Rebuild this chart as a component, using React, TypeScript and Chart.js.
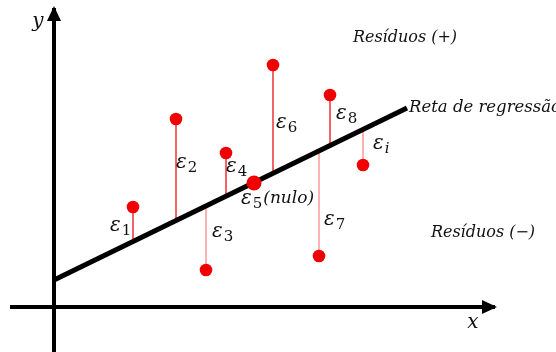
import React, { useEffect, useRef } from "react";
import { Chart, registerables } from "chart.js";

Chart.register(...registerables);

// Observations (x, y) in chart units
const obsX = [7.9, 12.2, 15.2, 17.2, 20.0, 21.9, 26.5, 27.6, 30.9];
const obsY = [10.0, 18.8, 3.7, 15.4, 12.4, 24.2, 5.1, 21.2, 14.2];
const residualSubs = ["1", "2", "3", "4", "5", "6", "7", "8", "i"];
const residualSuffix = ["", "", "", "", "(nulo)", "", "", "", ""];

// Regression line end points
const lineX = [0, 35.3];
const lineY = [2.7, 19.9];

// Axis extents
const xAxisX = [-4.4, 44.1];
const yAxisY = [-4.6, 29.9];

// Residual label anchors (left edge of ε, vertical centre)
const labelX = [5.6, 12.2, 15.8, 17.2, 18.7, 22.2, 27.0, 28.2, 31.9];
const labelY = [8.1, 14.4, 7.5, 14.0, 10.8, 18.4, 8.7, 19.3, 16.3];

const X_MIN = -5.4;
const X_MAX = 50.2;
const Y_MIN = -4.5;
const Y_MAX = 30.7;

const FONT = "'DejaVu Serif', serif";

function fitted(x: number): number {
  const slope = (lineY[1] - lineY[0]) / (lineX[1] - lineX[0]);
  return lineY[0] + slope * (x - lineX[0]);
}

const annotations = {
  id: "annotations",
  afterDatasetsDraw(chart: any) {
    const ctx: CanvasRenderingContext2D = chart.ctx;
    const xs = chart.scales.x;
    const ys = chart.scales.y;
    const px = (v: number) => xs.getPixelForValue(v);
    const py = (v: number) => ys.getPixelForValue(v);

    ctx.save();
    ctx.fillStyle = "#000";

    // arrow heads
    const tipY = py(yAxisY[1]);
    const ax = px(0);
    ctx.beginPath();
    ctx.moveTo(ax, tipY - 2);
    ctx.lineTo(ax - 7, tipY + 13);
    ctx.lineTo(ax + 7, tipY + 13);
    ctx.closePath();
    ctx.fill();

    const tipX = px(xAxisX[1]);
    const ay = py(0);
    ctx.beginPath();
    ctx.moveTo(tipX + 2, ay);
    ctx.lineTo(tipX - 13, ay - 7);
    ctx.lineTo(tipX - 13, ay + 7);
    ctx.closePath();
    ctx.fill();

    // residual labels: italic ε, upright digit subscripts
    ctx.textBaseline = "middle";
    ctx.textAlign = "left";
    ctx.fillStyle = "#111";
    for (let i = 0; i < labelX.length; i++) {
      let x = px(labelX[i]);
      const y = py(labelY[i]);
      ctx.font = `italic 20px ${FONT}`;
      ctx.fillText("ε", x, y);
      x += ctx.measureText("ε").width + 1;
      const sub = residualSubs[i];
      ctx.font = /\d/.test(sub) ? `15px ${FONT}` : `italic 15px ${FONT}`;
      ctx.fillText(sub, x, y + 5);
      x += ctx.measureText(sub).width;
      if (residualSuffix[i]) {
        ctx.font = `italic 17px ${FONT}`;
        ctx.fillText(residualSuffix[i], x + 1, y);
      }
    }

    ctx.font = `italic 16px ${FONT}`;
    ctx.textAlign = "center";
    ctx.fillText("Resíduos (+)", px(35.1), py(26.9));
    ctx.fillText("Resíduos (−)", px(42.9), py(7.4));
    ctx.textAlign = "left";
    ctx.font = `italic 16.5px ${FONT}`;
    ctx.fillText("Reta de regressão", px(35.5), py(19.9));

    ctx.font = `italic 20px ${FONT}`;
    ctx.textAlign = "center";
    ctx.fillText("x", px(41.9), py(-1.6));
    ctx.fillText("y", px(-1.6), py(28.5));
    ctx.restore();
  },
};

export default function App() {
  const ref = useRef<HTMLCanvasElement | null>(null);

  useEffect(() => {
    if (!ref.current) return;

    const stems: any[] = [];
    obsX.forEach((x, i) => {
      stems.push({ x, y: obsY[i] });
      stems.push({ x, y: fitted(x) });
      stems.push({ x, y: null });
    });

    const chart = new Chart(ref.current, {
      type: "scatter",
      data: {
        datasets: [
          {
            label: "observações",
            data: obsX.map((x, i) => ({ x, y: obsY[i] })),
            backgroundColor: "#f00000",
            borderWidth: 0,
            pointRadius: obsX.map((_, i) => (i === 4 ? 7.5 : 6.3)),
            order: 0,
          },
          {
            label: "reta",
            data: lineX.map((x, i) => ({ x, y: lineY[i] })),
            showLine: true,
            borderColor: "#000",
            borderWidth: 5,
            pointRadius: 0,
            order: 1,
          },
          {
            label: "eixo x",
            data: xAxisX.map((x) => ({ x, y: 0 })),
            showLine: true,
            borderColor: "#000",
            borderWidth: 4,
            pointRadius: 0,
            order: 2,
          },
          {
            label: "eixo y",
            data: yAxisY.map((y) => ({ x: 0, y })),
            showLine: true,
            borderColor: "#000",
            borderWidth: 4,
            pointRadius: 0,
            order: 2,
          },
          {
            label: "resíduos",
            data: stems,
            showLine: true,
            spanGaps: false,
            borderColor: "rgba(240,60,60,0.8)",
            borderWidth: 1,
            pointRadius: 0,
            order: 3,
          },
        ],
      },
      options: {
        animation: false,
        responsive: false,
        layout: { padding: 0, autoPadding: false },
        plugins: {
          legend: { display: false },
          tooltip: { enabled: false },
        },
        scales: {
          x: { type: "linear", min: X_MIN, max: X_MAX, display: false },
          y: { type: "linear", min: Y_MIN, max: Y_MAX, display: false },
        },
      },
      plugins: [annotations],
    });

    return () => chart.destroy();
  }, []);

  return (
    <div style={{ position: "absolute", left: 0, top: 0, width: 556, height: 352, background: "#fff" }}>
      <canvas ref={ref} width={556} height={352} />
    </div>
  );
}
